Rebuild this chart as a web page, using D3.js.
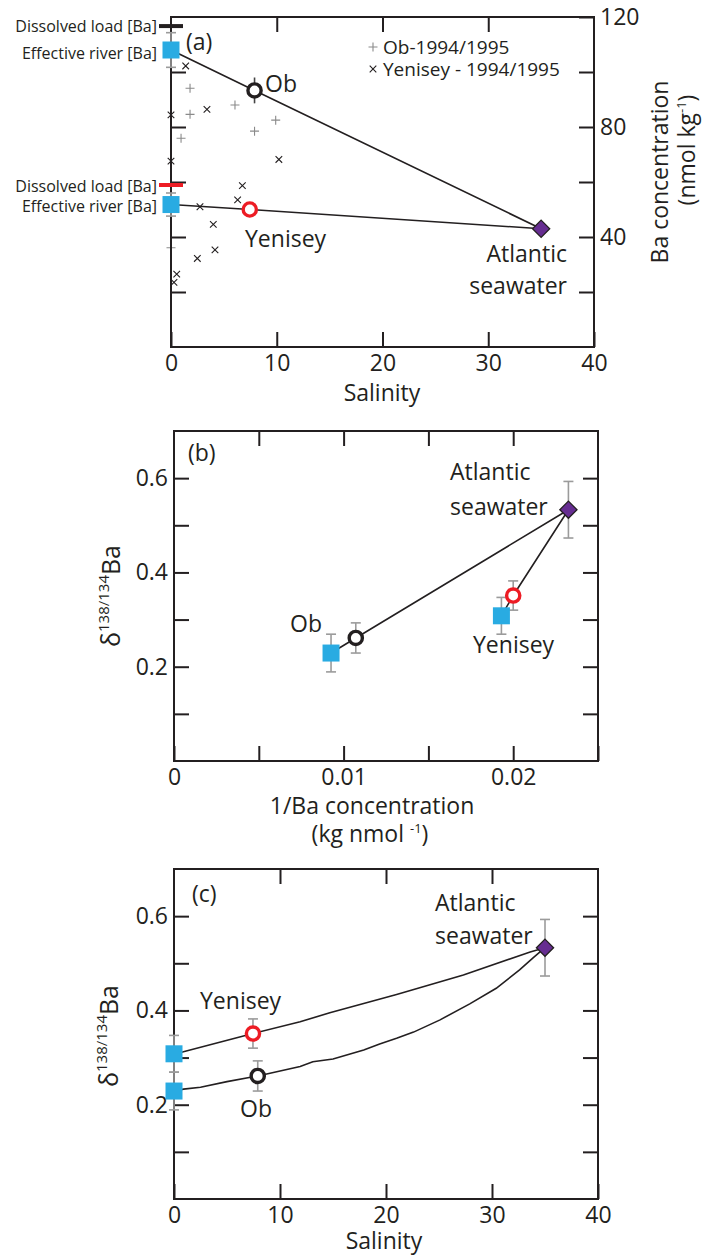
<!DOCTYPE html>
<html>
<head>
<meta charset="utf-8">
<script src="https://cdn.jsdelivr.net/npm/d3@7"></script>
<style>
  html, body { margin: 0; padding: 0; background: #fff; }
  svg { display: block; font-family: "Open Sans", sans-serif; }
</style>
</head>
<body>
<svg id="chart" width="702" height="1256"></svg>
<script>
// ---------------- data ----------------
// End-members for the two rivers (index 0 = Ob, 1 = Yenisey)
const rivers = ["Ob", "Yenisey"];
const dissolvedLoadBa = [116.7, 58.9];          // nmol/kg
const effectiveRiverBa = [108.0, 51.8];         // nmol/kg
const effectiveRiverBaErr = [6.3, 4.2];
const estuarySalinity = [7.9, 7.45];
const estuaryBa = [93.3, 50.0];
const estuaryBaErr = [4.7, 0];
const atlanticSalinity = 35;
const atlanticBa = 43.0;

// Ba isotope composition (delta 138/134 Ba)
const effectiveRiverDelta = [0.229, 0.308];
const effectiveRiverDeltaErr = [0.04, 0.039];
const estuaryDelta = [0.261, 0.351];
const estuaryDeltaErr = [0.032, 0.031];
const atlanticDelta = 0.533;
const atlanticDeltaErr = 0.06;

// 1994/1995 surveys: salinity and Ba
const obSurveySalinity = [1.8, 1.8, 6.05, 0.95, 9.9, 7.9, 0];
const obSurveyBa = [94.1, 84.6, 88.0, 75.9, 82.5, 78.5, 36.1];
const yenSurveySalinity = [1.39, 0, 3.4, 0, 10.2, 6.75, 6.3, 2.74, 4.0, 4.16, 2.49, 0.54, 0.28];
const yenSurveyBa = [102.2, 84.4, 86.4, 67.6, 68.2, 58.7, 53.5, 51.0, 44.6, 35.3, 32.2, 26.5, 23.5];

// Mixing curves, salinity vs delta 138/134 Ba
const obCurveSalinity = [0, 0.9, 2.5, 5.0, 7.9, 11.9, 13.1, 15.0, 17.9, 19.4, 21.0, 22.6, 25.1, 27.9, 30.4, 32.6, 33.9, 35];
const obCurveDelta = [0.229, 0.233, 0.237, 0.249, 0.261, 0.281, 0.291, 0.297, 0.316, 0.329, 0.341, 0.354, 0.380, 0.414, 0.447, 0.486, 0.512, 0.533];
const yenCurveSalinity = [0, 0.8, 7.45, 11.9, 14.7, 21.0, 27.3, 33.6, 35];
const yenCurveDelta = [0.308, 0.312, 0.351, 0.376, 0.395, 0.434, 0.475, 0.524, 0.533];

// Axis ticks
const salinityTicks = [0, 10, 20, 30, 40];
const baTicks = [20, 40, 60, 80, 100, 120];
const baTickLabels = [40, 80, 120];
const invBaTicks = [0, 0.005, 0.01, 0.015, 0.02, 0.025];
const invBaTickLabels = [0, 0.01, 0.02];
const deltaTicks = [0.1, 0.2, 0.3, 0.4, 0.5, 0.6];
const deltaTickLabels = [0.2, 0.4, 0.6];

// ---------------- style ----------------
const INK = "#231f20";
const GREY = "#9b9b9b";
const BLUE = "#29abe2";
const RED = "#ed1c24";
const PURPLE = "#662d91";
const TICK = 15;
const FS = 23;

const svg = d3.select("#chart");

// ---------------- helpers ----------------
function styleAxis(sel) {
  sel.select(".domain").remove();
  sel.attr("font-family", null).attr("font-size", null);
  sel.selectAll(".tick line").attr("stroke", INK).attr("stroke-width", 2);
  sel.selectAll(".tick text").attr("fill", INK).attr("font-size", FS);
}

function frame(g, x, y, o) {
  const [xa, xb] = x.range();
  const [yb, ya] = y.range();
  const inner = o.xTicks.filter(v => v > x.domain()[0] && v < x.domain()[1]);
  const innerY = o.yTicks.filter(v => v > y.domain()[0] && v < y.domain()[1]);
  g.append("g").attr("transform", `translate(0,${yb})`)
    .call(d3.axisBottom(x).tickValues(o.xTicks).tickSize(-TICK).tickPadding(8)
      .tickFormat(v => o.xLabels.includes(v) ? o.xFmt(v) : ""))
    .call(styleAxis);
  g.append("g").attr("transform", `translate(0,${ya})`)
    .call(d3.axisTop(x).tickValues(inner).tickSize(-TICK).tickFormat(""))
    .call(styleAxis);
  g.append("g").attr("transform", `translate(${xa},0)`)
    .call(d3.axisLeft(y).tickValues(o.leftLabels ? o.yTicks : innerY).tickSize(-TICK).tickPadding(6)
      .tickFormat(v => o.leftLabels && o.leftLabels.includes(v) ? o.yFmt(v) : ""))
    .call(styleAxis);
  g.append("g").attr("transform", `translate(${xb},0)`)
    .call(d3.axisRight(y).tickValues(o.rightLabels ? o.yTicks : innerY).tickSize(-TICK).tickPadding(6)
      .tickFormat(v => o.rightLabels && o.rightLabels.includes(v) ? o.yFmt(v) : ""))
    .call(styleAxis);
  g.append("rect")
    .attr("x", xa).attr("y", ya).attr("width", xb - xa).attr("height", yb - ya)
    .attr("fill", "none").attr("stroke", INK).attr("stroke-width", 2);
}

function errorBar(g, px, yLo, yHi, color, cap) {
  g.append("line").attr("x1", px).attr("x2", px).attr("y1", yLo).attr("y2", yHi)
    .attr("stroke", color).attr("stroke-width", 1.6);
  if (cap) {
    [yLo, yHi].forEach(py => g.append("line")
      .attr("x1", px - cap).attr("x2", px + cap).attr("y1", py).attr("y2", py)
      .attr("stroke", color).attr("stroke-width", 1.6));
  }
}

function square(g, px, py, s = 17) {
  g.append("rect").attr("x", px - s / 2).attr("y", py - s / 2)
    .attr("width", s).attr("height", s).attr("fill", BLUE);
}
function ring(g, px, py, color) {
  g.append("circle").attr("cx", px).attr("cy", py).attr("r", 6.6)
    .attr("fill", "#fff").attr("stroke", color).attr("stroke-width", 3.4);
}
function diamond(g, px, py, h = 8.6) {
  g.append("path")
    .attr("d", `M${px},${py - h}L${px + h},${py}L${px},${py + h}L${px - h},${py}Z`)
    .attr("fill", PURPLE).attr("stroke", INK).attr("stroke-width", 1.3);
}
function plus(g, px, py, a, color) {
  g.append("path").attr("d", `M${px - a},${py}H${px + a}M${px},${py - a}V${py + a}`)
    .attr("stroke", color).attr("stroke-width", 1.1).attr("fill", "none");
}
function cross(g, px, py, a, color) {
  g.append("path").attr("d", `M${px - a},${py - a}L${px + a},${py + a}M${px - a},${py + a}L${px + a},${py - a}`)
    .attr("stroke", color).attr("stroke-width", 1.1).attr("fill", "none");
}
function label(g, x, y, str, opts = {}) {
  return g.append("text").attr("x", x).attr("y", y)
    .attr("font-size", opts.size || FS)
    .attr("text-anchor", opts.anchor || "start")
    .attr("fill", INK).text(str);
}
function deltaTitle(g, x, cy) {
  const t = g.append("text")
    .attr("transform", `translate(${x},${cy}) rotate(-90)`)
    .attr("text-anchor", "middle").attr("fill", INK).attr("font-size", 25);
  t.append("tspan").text("\u03b4");
  t.append("tspan").attr("font-size", 15).attr("dy", -11).text("138/134");
  t.append("tspan").attr("dy", 11).text("Ba");
}
const lineGen = d3.line();

// ================= panel (a): Ba vs salinity =================
{
  const g = svg.append("g");
  const x = d3.scaleLinear().domain([0, 40]).range([171, 594]);
  const y = d3.scaleLinear().domain([0, 120]).range([347, 17]);

  // survey data
  obSurveySalinity.forEach((s, i) => plus(g, x(s), y(obSurveyBa[i]), 4.5, "#8a8a8a"));
  yenSurveySalinity.forEach((s, i) => cross(g, x(s), y(yenSurveyBa[i]), 3.3, INK));

  frame(g, x, y, {
    xTicks: salinityTicks, xLabels: salinityTicks, xFmt: d3.format("d"),
    yTicks: baTicks, rightLabels: baTickLabels, yFmt: d3.format("d")
  });

  // mixing lines river -> estuary -> Atlantic
  rivers.forEach((r, i) => {
    g.append("path")
      .attr("d", lineGen([[x(0), y(effectiveRiverBa[i])], [x(estuarySalinity[i]), y(estuaryBa[i])], [x(atlanticSalinity), y(atlanticBa)]]))
      .attr("fill", "none").attr("stroke", INK).attr("stroke-width", 1.6);
  });

  // effective river error bars
  rivers.forEach((r, i) => {
    errorBar(g, x(0), y(effectiveRiverBa[i] - effectiveRiverBaErr[i]), y(effectiveRiverBa[i] + effectiveRiverBaErr[i]), GREY, 5);
  });
  // Ob estuary error bar
  rivers.forEach((r, i) => {
    if (estuaryBaErr[i] > 0)
      errorBar(g, x(estuarySalinity[i]), y(estuaryBa[i] - estuaryBaErr[i]), y(estuaryBa[i] + estuaryBaErr[i]), "#444", 0);
  });

  // dissolved load bars
  const loadColor = [INK, RED];
  rivers.forEach((r, i) => {
    g.append("line").attr("x1", x(0) - 12).attr("x2", x(0) + 12)
      .attr("y1", y(dissolvedLoadBa[i])).attr("y2", y(dissolvedLoadBa[i]))
      .attr("stroke", loadColor[i]).attr("stroke-width", 4);
  });

  rivers.forEach((r, i) => square(g, x(0), y(effectiveRiverBa[i])));
  ring(g, x(estuarySalinity[0]), y(estuaryBa[0]), INK);
  ring(g, x(estuarySalinity[1]), y(estuaryBa[1]), RED);
  diamond(g, x(atlanticSalinity), y(atlanticBa));

  // annotations
  label(g, 157, 32, "Dissolved load [Ba]", { size: 16, anchor: "end" });
  label(g, 157, 59, "Effective river [Ba]", { size: 16, anchor: "end" });
  label(g, 157, 192, "Dissolved load [Ba]", { size: 16, anchor: "end" });
  label(g, 157, 212, "Effective river [Ba]", { size: 16, anchor: "end" });
  label(g, 186, 50, "(a)");
  label(g, 265, 92, "Ob");
  label(g, 245, 247, "Yenisey");
  label(g, 567, 262, "Atlantic", { anchor: "end" });
  label(g, 567, 294, "seawater", { anchor: "end" });

  // legend
  plus(g, 373, 47, 4.5, "#8a8a8a");
  cross(g, 373, 69, 3.3, INK);
  label(g, 383, 54, "Ob-1994/1995", { size: 19 });
  label(g, 383, 76, "Yenisey - 1994/1995", { size: 19 });

  // axis titles
  label(g, 382, 401, "Salinity", { anchor: "middle" });
  g.append("text").attr("transform", "translate(668,172) rotate(-90)")
    .attr("text-anchor", "middle").attr("font-size", FS).attr("fill", INK).text("Ba concentration");
  const t2 = g.append("text").attr("transform", "translate(695,150) rotate(-90)")
    .attr("text-anchor", "middle").attr("font-size", FS).attr("fill", INK);
  t2.append("tspan").text("(nmol kg");
  t2.append("tspan").attr("font-size", 13).attr("dy", -9).text("-1");
  t2.append("tspan").attr("dy", 9).text(")");
}

// ================= panel (b): delta vs 1/Ba =================
{
  const g = svg.append("g");
  const x = d3.scaleLinear().domain([0, 0.025]).range([174, 598]);
  const y = d3.scaleLinear().domain([0, 0.7]).range([761, 431]);

  frame(g, x, y, {
    xTicks: invBaTicks, xLabels: invBaTickLabels, xFmt: v => v === 0 ? "0" : d3.format(".2f")(v),
    yTicks: deltaTicks, leftLabels: deltaTickLabels, yFmt: d3.format(".1f")
  });

  rivers.forEach((r, i) => {
    g.append("path")
      .attr("d", lineGen([
        [x(1 / effectiveRiverBa[i]), y(effectiveRiverDelta[i])],
        [x(1 / estuaryBa[i]), y(estuaryDelta[i])],
        [x(1 / atlanticBa), y(atlanticDelta)]]))
      .attr("fill", "none").attr("stroke", INK).attr("stroke-width", 1.6);
  });

  rivers.forEach((r, i) => {
    const xe = x(1 / effectiveRiverBa[i]);
    errorBar(g, xe, y(effectiveRiverDelta[i] - effectiveRiverDeltaErr[i]), y(effectiveRiverDelta[i] + effectiveRiverDeltaErr[i]), GREY, 5);
    const xs = x(1 / estuaryBa[i]);
    errorBar(g, xs, y(estuaryDelta[i] - estuaryDeltaErr[i]), y(estuaryDelta[i] + estuaryDeltaErr[i]), GREY, 5);
  });
  errorBar(g, x(1 / atlanticBa), y(atlanticDelta - atlanticDeltaErr), y(atlanticDelta + atlanticDeltaErr), GREY, 5);

  rivers.forEach((r, i) => square(g, x(1 / effectiveRiverBa[i]), y(effectiveRiverDelta[i])));
  ring(g, x(1 / estuaryBa[0]), y(estuaryDelta[0]), INK);
  ring(g, x(1 / estuaryBa[1]), y(estuaryDelta[1]), RED);
  diamond(g, x(1 / atlanticBa), y(atlanticDelta));

  label(g, 188, 461, "(b)");
  label(g, 290, 632, "Ob");
  label(g, 473, 653, "Yenisey");
  label(g, 450, 480, "Atlantic");
  label(g, 450, 515, "seawater");

  deltaTitle(g, 120, 596);
  label(g, 372, 814, "1/Ba concentration", { anchor: "middle" });
  const t = g.append("text").attr("x", 370).attr("y", 842).attr("text-anchor", "middle")
    .attr("font-size", FS).attr("fill", INK);
  t.append("tspan").text("(kg nmol ");
  t.append("tspan").attr("font-size", 13).attr("dy", -9).text("-1");
  t.append("tspan").attr("dy", 9).text(")");
}

// ================= panel (c): delta vs salinity =================
{
  const g = svg.append("g");
  const x = d3.scaleLinear().domain([0, 40]).range([174, 598]);
  const y = d3.scaleLinear().domain([0, 0.7]).range([1199, 869]);

  frame(g, x, y, {
    xTicks: salinityTicks, xLabels: salinityTicks, xFmt: d3.format("d"),
    yTicks: deltaTicks, leftLabels: deltaTickLabels, yFmt: d3.format(".1f")
  });

  const curves = [
    obCurveSalinity.map((s, i) => [x(s), y(obCurveDelta[i])]),
    yenCurveSalinity.map((s, i) => [x(s), y(yenCurveDelta[i])])
  ];
  curves.forEach(c => g.append("path").attr("d", lineGen(c))
    .attr("fill", "none").attr("stroke", INK).attr("stroke-width", 1.6));

  rivers.forEach((r, i) => {
    errorBar(g, x(0), y(effectiveRiverDelta[i] - effectiveRiverDeltaErr[i]), y(effectiveRiverDelta[i] + effectiveRiverDeltaErr[i]), GREY, 5);
    errorBar(g, x(estuarySalinity[i]), y(estuaryDelta[i] - estuaryDeltaErr[i]), y(estuaryDelta[i] + estuaryDeltaErr[i]), GREY, 5);
  });
  errorBar(g, x(atlanticSalinity), y(atlanticDelta - atlanticDeltaErr), y(atlanticDelta + atlanticDeltaErr), GREY, 5);

  rivers.forEach((r, i) => square(g, x(0), y(effectiveRiverDelta[i])));
  ring(g, x(estuarySalinity[0]), y(estuaryDelta[0]), INK);
  ring(g, x(estuarySalinity[1]), y(estuaryDelta[1]), RED);
  diamond(g, x(atlanticSalinity), y(atlanticDelta));

  label(g, 192, 902, "(c)");
  label(g, 200, 1009, "Yenisey");
  label(g, 240, 1117, "Ob");
  label(g, 435, 911, "Atlantic");
  label(g, 435, 944, "seawater");

  deltaTitle(g, 118, 1036);
  label(g, 384, 1249, "Salinity", { anchor: "middle" });
}
</script>
</body>
</html>
